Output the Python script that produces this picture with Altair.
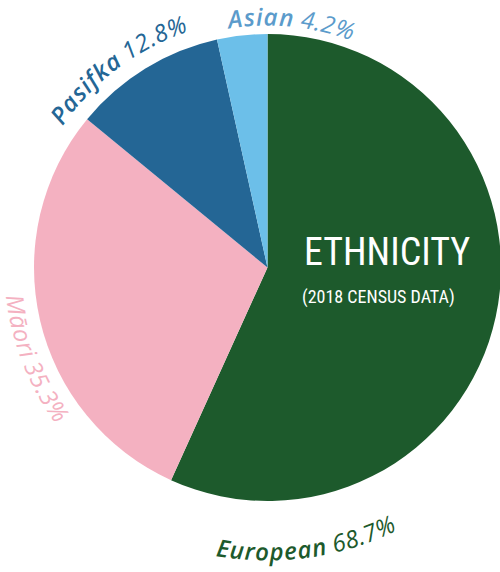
import math
import altair as alt
import pandas as pd

# ---------------- data ----------------
categories = ["European", "Māori", "Pasifka", "Asian"]
percents = [68.7, 35.3, 12.8, 4.2]
title_text = "ETHNICITY"
subtitle_text = "(2018 CENSUS DATA)"

# ---------------- styles / layout ----------------
slice_colors = ["#1d5a2c", "#f4b1c1", "#246695", "#6cbfe9"]
label_colors = ["#1d5a2c", "#f4b1c1", "#246695", "#5b9bcb"]
name_bold = {"European": "bold", "Māori": "normal", "Pasifka": "bold", "Asian": "bold"}

CX, CY, R = 267.5, 267.5, 233.5
LABEL_FONT = "Open Sans"
LABEL_SIZE = 24
COND_FONT = "Noto Sans Condensed, Roboto Condensed, Liberation Sans Narrow, Roboto, sans-serif"

# center angle (deg clockwise from north), baseline radius, direction (+1 cw, -1 ccw)
label_layout = {
    "European": (172.0, 293.0, -1),
    "Māori": (248.7, 263.0, -1),
    "Pasifka": (-37.0, 249.0, 1),
    "Asian": (5.5, 242.0, 1),
}

# approximate advance widths (em) for italic label font
W_BOLD = {"A": 0.66, "s": 0.50, "i": 0.30, "a": 0.62, "n": 0.65, "P": 0.63,
          "f": 0.40, "k": 0.58, "E": 0.56, "u": 0.65, "r": 0.45, "o": 0.61,
          "p": 0.63, "e": 0.57, " ": 0.26}
W_REG = {"M": 0.89, "ā": 0.60, "o": 0.59, "r": 0.42, "i": 0.26, " ": 0.26,
         ".": 0.27, "%": 0.82}
for d in "0123456789":
    W_REG[d] = 0.572

rows = []
for cat, val in zip(categories, percents):
    name_w = name_bold[cat]
    pieces = [(ch, name_w) for ch in cat] + [(" ", "normal")] + \
             [(ch, "normal") for ch in f"{val}%"]
    widths = [(W_BOLD if w == "bold" else W_REG).get(ch, 0.58) * LABEL_SIZE
              for ch, w in pieces]
    total = sum(widths)
    phi_c, rad, direction = label_layout[cat]
    start = math.radians(phi_c) - direction * total / rad / 2
    cum = 0.0
    for (ch, w), wd in zip(pieces, widths):
        phi = start + direction * (cum + wd / 2) / rad
        cum += wd
        if ch == " ":
            continue
        rot = math.degrees(phi) if direction > 0 else math.degrees(phi) - 180
        rows.append({"category": cat, "ch": ch, "weight": w,
                     "phi": phi, "r": rad, "rot": rot})
char_df = pd.DataFrame(rows)

pie_df = pd.DataFrame({"category": categories, "value": percents,
                       "order": list(range(len(categories)))})

pie = alt.Chart(pie_df).mark_arc(radius=R).encode(
    theta=alt.Theta("value:Q", stack=True),
    color=alt.Color("category:N",
                    scale=alt.Scale(domain=categories, range=slice_colors),
                    legend=None),
    order=alt.Order("order:Q"),
    x=alt.value(CX),
    y=alt.value(CY),
)


def char_layer(weight, css_weight):
    return alt.Chart(char_df).transform_filter(
        alt.datum.weight == weight
    ).mark_text(
        font=LABEL_FONT, fontSize=LABEL_SIZE, fontStyle="italic",
        fontWeight=css_weight, align="center", baseline="alphabetic"
    ).encode(
        x=alt.value(CX),
        y=alt.value(CY),
        theta=alt.Theta("phi:Q", scale=None, stack=False),
        radius=alt.Radius("r:Q", scale=None),
        angle=alt.Angle("rot:Q", scale=None),
        text=alt.Text("ch:N"),
        color=alt.Color("category:N",
                        scale=alt.Scale(domain=categories, range=label_colors),
                        legend=None),
    )


title = alt.Chart(pd.DataFrame({"t": [title_text]})).mark_text(
    font=COND_FONT, fontSize=38, color="white", align="left",
    baseline="alphabetic"
).encode(x=alt.value(304), y=alt.value(265), text="t:N")

subtitle = alt.Chart(pd.DataFrame({"t": [subtitle_text]})).mark_text(
    font=COND_FONT, fontSize=18, color="white", align="left",
    baseline="alphabetic"
).encode(x=alt.value(302), y=alt.value(303), text="t:N")

chart = alt.layer(
    pie, char_layer("bold", 600), char_layer("normal", 400), title, subtitle
).resolve_scale(color="independent").properties(
    width=500, height=572, padding=0, autosize="none"
).configure_view(stroke=None)

chart.save("out.html", embed_options={"renderer": "svg", "actions": False})
